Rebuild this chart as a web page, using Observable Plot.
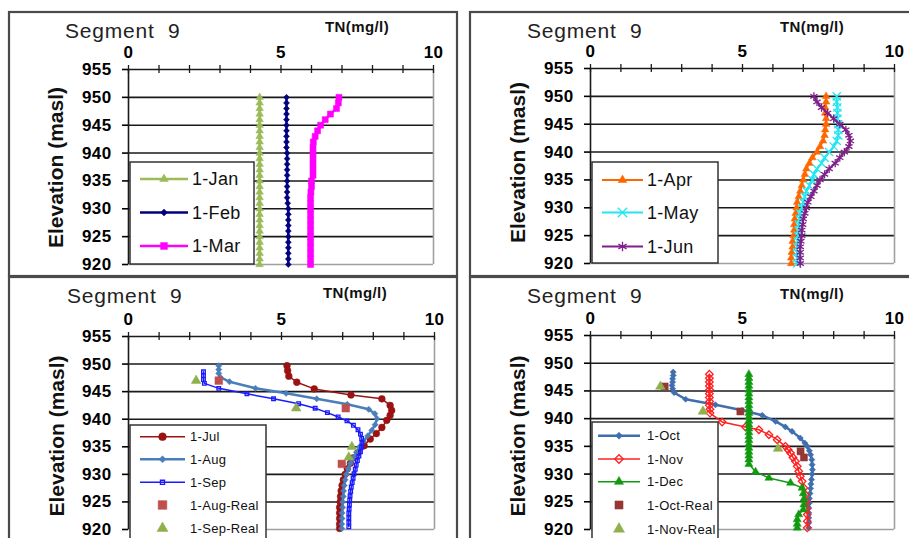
<!DOCTYPE html>
<html>
<head>
<meta charset="utf-8">
<script src="https://cdn.jsdelivr.net/npm/d3@7"></script>
<script src="https://cdn.jsdelivr.net/npm/@observablehq/plot@0.6"></script>
<style>
  body { margin: 0; background: #fff; }
  #chart { position: relative; width: 909px; height: 538px; overflow: hidden; background: #fff;
           font-family: "Liberation Sans", Arial, sans-serif; }
  #chart svg.panel-plot { position: absolute; }
  #overlay { position: absolute; left: 0; top: 0; }
</style>
</head>
<body>
<div id="chart"></div>
<script>
// ---- Axis settings ----
const xTicksMajor = [0, 5, 10];
const xTicksMinor = [0, 1, 2, 3, 4, 5, 6, 7, 8, 9, 10];
const yTicks = [920, 925, 930, 935, 940, 945, 950, 955];
const gridElev = [925, 930, 935, 940, 945, 950];

// ---- Jan–Jun profiles: model layers every metre ----
const topElev = [950, 949, 948, 947, 946, 945, 944, 943, 942, 941, 940, 939, 938, 937, 936, 935,
                 934, 933, 932, 931, 930, 929, 928, 927, 926, 925, 924, 923, 922, 921, 920];
const janTN = [4.3, 4.3, 4.3, 4.3, 4.3, 4.3, 4.3, 4.3, 4.3, 4.3, 4.3, 4.3, 4.3, 4.3, 4.3, 4.3,
               4.3, 4.3, 4.3, 4.3, 4.3, 4.3, 4.3, 4.3, 4.3, 4.3, 4.3, 4.3, 4.3, 4.3, 4.3];
const febTN = [5.18, 5.18, 5.18, 5.18, 5.18, 5.18, 5.18, 5.18, 5.18, 5.18, 5.2, 5.2, 5.2, 5.2, 5.2, 5.2,
               5.2, 5.2, 5.2, 5.22, 5.24, 5.24, 5.24, 5.24, 5.24, 5.24, 5.24, 5.24, 5.24, 5.24, 5.24];
const marTN = [6.9, 6.88, 6.82, 6.62, 6.45, 6.3, 6.2, 6.12, 6.06, 6.05, 6.05, 6.05, 6.05, 6.05, 6.05, 6.0,
               6.0, 5.98, 5.97, 5.97, 5.97, 5.97, 5.97, 5.97, 5.97, 5.97, 5.97, 5.97, 5.97, 5.97, 5.97];
const aprTN = [7.75, 7.75, 7.72, 7.72, 7.75, 7.75, 7.72, 7.7, 7.65, 7.55, 7.45, 7.3, 7.2, 7.1, 7.05, 7.0,
               6.95, 6.9, 6.85, 6.8, 6.78, 6.75, 6.72, 6.7, 6.7, 6.68, 6.65, 6.65, 6.62, 6.6, 6.6];
const mayTN = [8.1, 8.1, 8.12, 8.12, 8.12, 8.15, 8.15, 8.15, 8.1, 8.0, 7.85, 7.7, 7.6, 7.45, 7.35, 7.3,
               7.2, 7.1, 7.05, 7.0, 6.95, 6.9, 6.88, 6.85, 6.85, 6.82, 6.82, 6.8, 6.8, 6.8, 6.8];
const junTN = [7.35, 7.45, 7.6, 7.8, 8.0, 8.2, 8.4, 8.5, 8.55, 8.5, 8.35, 8.2, 8.05, 7.85, 7.7, 7.55,
               7.45, 7.35, 7.25, 7.15, 7.1, 7.05, 7.0, 6.98, 6.95, 6.95, 6.92, 6.9, 6.9, 6.9, 6.9];

// ---- Jul–Sep profiles and measurements ----
const julElev = [949.7, 948.8, 947.8, 946.7, 945.5, 944.4, 943.7, 942.5, 941.6, 940.7, 939.8, 938.5, 937.4,
                 936.4, 935.2, 934.0, 933.0, 932.0, 931.0, 930.0, 929.0, 928.0, 927.0, 926.0, 925.0, 924.0,
                 923.0, 922.0, 921.0, 920.2];
const julTN = [5.18, 5.2, 5.24, 5.5, 6.07, 7.27, 8.28, 8.55, 8.6, 8.55, 8.44, 8.28, 8.1,
               7.9, 7.7, 7.5, 7.35, 7.25, 7.15, 7.08, 7.02, 6.98, 6.95, 6.93, 6.92, 6.9,
               6.9, 6.9, 6.9, 6.9];
const augElev = [949.7, 949.0, 948.3, 947.6, 946.8, 945.6, 944.7, 943.7, 942.7, 941.8, 941.0, 940.1, 939.0,
                 938.0, 937.0, 936.0, 935.0, 934.0, 933.0, 932.0, 931.0, 930.0, 929.0, 928.0, 927.0, 926.0,
                 925.0, 924.0, 923.0, 922.0, 921.0, 920.2];
const augTN = [2.95, 2.95, 2.95, 3.0, 3.3, 4.15, 5.15, 6.15, 7.15, 7.85, 8.05, 8.12, 8.06,
               7.95, 7.82, 7.68, 7.55, 7.45, 7.35, 7.25, 7.18, 7.12, 7.08, 7.05, 7.03, 7.02,
               7.0, 7.0, 6.98, 6.98, 6.97, 6.97];
const sepElev = [948.6, 947.9, 947.2, 946.5, 945.6, 944.6, 943.7, 942.8, 942.0, 941.2, 940.4, 939.7, 938.9,
                 938.1, 937.3, 936.5, 935.7, 934.9, 934.1, 933.3, 932.5, 931.7, 930.9, 930.1, 929.3, 928.5,
                 927.7, 926.9, 926.1, 925.3, 924.5, 923.7, 922.9, 922.1, 921.3, 920.5];
const sepTN = [2.45, 2.45, 2.45, 2.48, 2.95, 3.87, 4.74, 5.56, 6.1, 6.5, 6.85, 7.14, 7.35,
               7.5, 7.58, 7.62, 7.63, 7.62, 7.58, 7.53, 7.48, 7.44, 7.41, 7.37, 7.34, 7.31,
               7.28, 7.26, 7.24, 7.23, 7.22, 7.21, 7.2, 7.2, 7.2, 7.2];
const augRealElev = [947.0, 942.0, 931.9];
const augRealTN = [2.95, 7.1, 6.97];
const sepRealElev = [947.0, 942.0, 935.0, 933.1];
const sepRealTN = [2.21, 5.48, 7.3, 7.2];

// ---- Oct–Dec profiles and measurements ----
const octElev = [948.4, 947.8, 947.2, 946.6, 946.0, 945.4, 944.7, 943.5, 942.5, 941.5, 940.6, 939.5, 938.5,
                 937.7, 936.5, 935.6, 935.0, 934.2, 933.5, 932.6, 931.7, 930.8, 930.0, 929.0, 928.2, 927.4,
                 926.5, 925.6, 924.8, 923.9, 923.0, 922.1, 921.2, 920.3];
const octTN = [2.72, 2.72, 2.7, 2.7, 2.68, 2.7, 2.75, 3.13, 4.11, 4.99, 5.65, 6.09, 6.41,
               6.63, 6.9, 7.05, 7.13, 7.2, 7.24, 7.28, 7.29, 7.3, 7.29, 7.27, 7.25, 7.24,
               7.22, 7.2, 7.2, 7.18, 7.18, 7.18, 7.18, 7.18];
const novElev = [948.0, 947.3, 946.6, 945.9, 945.2, 944.5, 943.8, 943.1, 942.4, 941.7, 941.0, 939.4, 938.5,
                 938.0, 937.1, 936.2, 935.0, 934.4, 933.8, 933.0, 932.3, 931.4, 930.5, 929.6, 928.7, 927.5,
                 926.3, 925.0, 923.8, 922.7, 921.5, 920.3];
const novTN = [3.91, 3.91, 3.91, 3.91, 3.92, 3.91, 3.91, 3.92, 3.91, 3.93, 3.93, 4.33, 5.1,
               5.54, 5.87, 6.14, 6.41, 6.5, 6.58, 6.66, 6.74, 6.8, 6.85, 6.9, 6.96, 7.02,
               7.07, 7.1, 7.12, 7.13, 7.13, 7.13];
const decElev = [948.0, 947.3, 946.6, 945.9, 945.2, 944.5, 943.8, 943.1, 942.4, 941.7, 941.0, 940.3, 939.6,
                 938.9, 938.2, 937.5, 936.8, 936.1, 935.4, 934.7, 934.0, 933.3, 932.6, 931.8, 930.4, 929.3,
                 928.4, 927.5, 926.5, 925.5, 924.5, 923.6, 922.7, 921.8, 921.0, 920.3];
const decTN = [5.21, 5.21, 5.21, 5.21, 5.21, 5.21, 5.21, 5.21, 5.21, 5.21, 5.21, 5.21, 5.21,
               5.21, 5.21, 5.21, 5.21, 5.21, 5.21, 5.21, 5.21, 5.21, 5.21, 5.21, 5.43, 5.87,
               6.58, 6.96, 7.0, 7.02, 7.02, 7.0, 6.85, 6.8, 6.8, 6.8];
const octRealElev = [945.8, 941.3, 934.1, 933.0];
const octRealTN = [2.44, 4.93, 6.91, 7.02];
const novRealElev = [945.8, 941.3, 934.6];
const novRealTN = [2.3, 3.7, 6.17];

const rows = (elev, tn) => elev.map((e, i) => ({elev: e, tn: tn[i]}));

const FONT = '"Liberation Sans", Arial, sans-serif';

// Series styles
const S = (name, elev, tn, color, symbol, r, filled, line, lineWidth) =>
  ({name, data: rows(elev, tn), color, symbol, r, filled, line, lineWidth});

const panels = [
  { box: [9, 12, 448, 264], plot: [9, 12, 448, 262], margin: [57, 24, 10, 119],
    seg: [56, 25.5], tn: [316, 19.5], ylab: [54, 155.5],
    legend: {x: 130, y: 162, w: 124, h: 102, rows: [179, 212.5, 246], lx1: 140, lx2: 188, tx: 192, fs: 18},
    series: [
      S("1-Jan", topElev, janTN, "#9bbb59", "triangle", 2.8, true, true, 2.5),
      S("1-Feb", topElev, febTN, "#000080", "diamond2", 2.7, true, true, 2.5),
      S("1-Mar", topElev, marTN, "#ff00ff", "square", 3.4, true, true, 2.5)
    ]},
  { box: [470, 12, 450, 264], plot: [470, 12, 439, 262], margin: [56, 15, 11, 120],
    seg: [57, 25.5], tn: [310, 19.5], ylab: [55, 150.5],
    legend: {x: 592, y: 162, w: 126, h: 101, rows: [180, 212.5, 246.5], lx1: 602, lx2: 643, tx: 647, fs: 18},
    series: [
      S("1-Apr", topElev, aprTN, "#ff6600", "triangle", 2.8, true, true, 2),
      S("1-May", topElev, mayTN, "#22e6f0", "times", 3.8, false, true, 2),
      S("1-Jun", topElev, junTN, "#7f1f8a", "asterisk", 3.9, false, true, 2)
    ]},
  { box: [9, 277, 448, 270], plot: [9, 277, 448, 261], margin: [59, 23, 9, 119],
    seg: [58, 26.3], tn: [314, 21.3], ylab: [55, 159],
    legend: {x: 130, y: 425, w: 136, h: 125, rows: [436.7, 459.3, 482.3, 505, 528.3], lx1: 140, lx2: 185, tx: 190, fs: 13},
    series: [
      S("1-Jul", julElev, julTN, "#9b1212", "circle", 3.4, true, true, 1.5),
      S("1-Aug", augElev, augTN, "#4a7ebb", "diamond2", 2.8, true, true, 2.5),
      S("1-Sep", sepElev, sepTN, "#1a1aff", "square2", 2.3, false, true, 1.5),
      S("1-Aug-Real", augRealElev, augRealTN, "#c0504d", "square", 4.3, true, false, 0),
      S("1-Sep-Real", sepRealElev, sepRealTN, "#8fb04a", "triangle", 3.6, true, false, 0)
    ]},
  { box: [470, 277, 450, 270], plot: [470, 277, 439, 261], margin: [58, 15, 9, 120],
    seg: [57, 26], tn: [310, 21.5], ylab: [55, 159],
    legend: {x: 592, y: 422, w: 126, h: 125, rows: [435.7, 459, 481.7, 505, 529], lx1: 598, lx2: 640, tx: 647, fs: 13},
    series: [
      S("1-Oct", octElev, octTN, "#3f6fae", "diamond2", 2.8, true, true, 2.5),
      S("1-Nov", novElev, novTN, "#ff2020", "diamond2", 3.4, false, true, 1.5),
      S("1-Dec", decElev, decTN, "#119a11", "triangle", 3.0, true, true, 1.5),
      S("1-Oct-Real", octRealElev, octRealTN, "#953735", "square", 4.0, true, false, 0),
      S("1-Nov-Real", novRealElev, novRealTN, "#8fb04a", "triangle", 3.6, true, false, 0)
    ]}
];

const chart = document.getElementById("chart");

panels.forEach(p => {
  const [pl, pt, pw, ph] = p.plot;
  const [mt, mr, mb, ml] = p.margin;
  const pxPerUnit = (ph - mt - mb) / 35;
  const half = 4 / pxPerUnit; // half-length of the crossing ticks on the top axis

  const marks = [
    Plot.ruleY(gridElev, {y: d => d, stroke: "#1a1a1a", strokeWidth: 1.6}),
    Plot.ruleY([920], {y: d => d, stroke: "#a0a0a0", strokeWidth: 1.6}),
    Plot.ruleX([10], {x: d => d, stroke: "#a0a0a0", strokeWidth: 1.6}),
    Plot.ruleX([0], {x: d => d, stroke: "#1a1a1a", strokeWidth: 1.6}),
    Plot.ruleY([955], {y: d => d, stroke: "#1a1a1a", strokeWidth: 1.6}),
    Plot.ruleX(xTicksMinor, {x: d => d, y1: 955 - half, y2: 955 + half, stroke: "#1a1a1a", strokeWidth: 1.3}),
    Plot.axisX({anchor: "top", ticks: xTicksMajor, tickSize: 0, tickPadding: 12, label: null}),
    Plot.axisY({anchor: "left", ticks: yTicks, tickSize: 6, tickPadding: 11, label: null,
                strokeWidth: 1.6})
  ];

  p.series.forEach(s => {
    if (s.line) {
      marks.push(Plot.line(s.data, {x: "tn", y: "elev", stroke: s.color, strokeWidth: s.lineWidth}));
    }
    marks.push(Plot.dot(s.data, {
      x: "tn", y: "elev", symbol: () => s.symbol, r: s.r,
      fill: s.filled ? s.color : "white",
      fillOpacity: s.filled ? 1 : 0,
      stroke: s.color,
      strokeWidth: s.filled ? 0.5 : 1.3
    }));
  });

  const svg = Plot.plot({
    width: pw, height: ph,
    marginTop: mt, marginRight: mr, marginBottom: mb, marginLeft: ml,
    x: {domain: [0, 10]},
    y: {domain: [920, 955]},
    symbol: {type: "identity"},
    style: {fontFamily: FONT, fontSize: "17px", fontWeight: "bold", color: "#000",
            letterSpacing: "0.4px", background: "transparent", overflow: "visible"},
    marks
  });
  svg.classList.add("panel-plot");
  svg.style.left = pl + "px";
  svg.style.top = pt + "px";
  chart.appendChild(svg);
});

// ---- Panel frames, titles, axis names and legends ----
const overlay = d3.select(chart).append("svg")
  .attr("id", "overlay").attr("width", 909).attr("height", 538)
  .style("font-family", FONT);

const symbolTypes = {
  triangle: d3.symbolTriangle, diamond2: d3.symbolDiamond2, square: d3.symbolSquare,
  square2: d3.symbolSquare2, circle: d3.symbolCircle, times: d3.symbolTimes, asterisk: d3.symbolAsterisk
};

panels.forEach(p => {
  const [bx, by, bw, bh] = p.box;
  overlay.append("rect").attr("x", bx).attr("y", by).attr("width", bw).attr("height", bh)
    .attr("fill", "none").attr("stroke", "#4a4a4a").attr("stroke-width", 2.2);

  overlay.append("text").attr("x", bx + p.seg[0]).attr("y", by + p.seg[1])
    .attr("font-size", 21).attr("letter-spacing", 0.8).attr("fill", "#222").style("white-space", "pre")
    .text("Segment  9");
  overlay.append("text").attr("x", bx + p.tn[0]).attr("y", by + p.tn[1])
    .attr("font-size", 15).attr("font-weight", "bold").attr("letter-spacing", 0.4).attr("fill", "#111")
    .text("TN(mg/l)");
  overlay.append("text")
    .attr("transform", `translate(${bx + p.ylab[0]},${by + p.ylab[1]}) rotate(-90)`)
    .attr("text-anchor", "middle").attr("font-size", 21).attr("font-weight", "bold").attr("fill", "#111")
    .text("Elevation (masl)");

  const L = p.legend;
  overlay.append("rect").attr("x", L.x).attr("y", L.y).attr("width", L.w).attr("height", L.h)
    .attr("fill", "white").attr("stroke", "#333").attr("stroke-width", 1.5);
  p.series.forEach((s, i) => {
    const y = L.rows[i];
    const mid = (L.lx1 + L.lx2) / 2;
    if (s.line) {
      overlay.append("line").attr("x1", L.lx1).attr("x2", L.lx2).attr("y1", y).attr("y2", y)
        .attr("stroke", s.color).attr("stroke-width", s.lineWidth);
    }
    overlay.append("path")
      .attr("d", d3.symbol(symbolTypes[s.symbol], s.r * s.r * Math.PI * 1.3)())
      .attr("transform", `translate(${mid},${y})`)
      .attr("fill", s.filled ? s.color : "none")
      .attr("stroke", s.color).attr("stroke-width", s.filled ? 0.5 : 1.3);
    overlay.append("text").attr("x", L.tx).attr("y", y + L.fs * 0.36)
      .attr("font-size", L.fs).attr("letter-spacing", 0.3).attr("fill", "#111").text(s.name);
  });
});
</script>
</body>
</html>
